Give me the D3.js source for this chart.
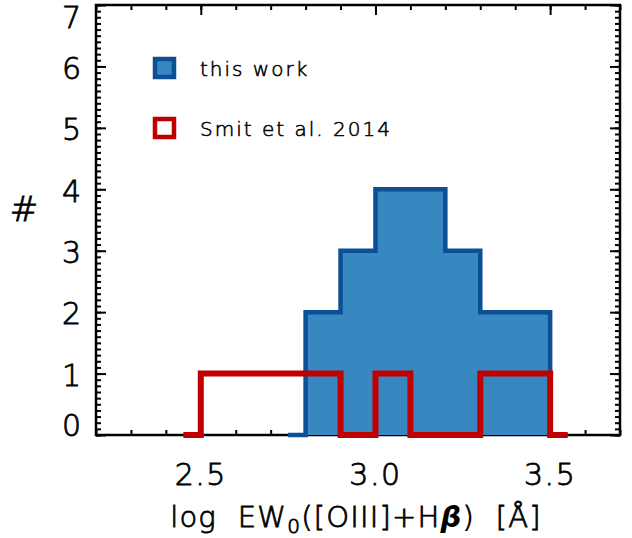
<!DOCTYPE html>
<html>
<head>
<meta charset="utf-8">
<script src="https://cdn.jsdelivr.net/npm/d3@7"></script>
<style>
  html, body { margin: 0; padding: 0; background: #fff; }
  svg { display: block; }
  text { font-family: "DejaVu Sans", sans-serif; fill: #000; font-weight: 300; stroke: #000; stroke-width: 0.8; }
  text.small { stroke-width: 0.55; }
</style>
</head>
<body>
<svg id="chart" width="632" height="538"></svg>
<script>
// ---- data ----
const binCenters = [2.45, 2.55, 2.65, 2.75, 2.85, 2.95, 3.05, 3.15, 3.25, 3.35, 3.45, 3.55];
const thisWork   = [0,    0,    0,    0,    2,    3,    4,    4,    3,    2,    2,    0];
const smit2014   = [0,    1,    1,    1,    1,    0,    1,    0,    0,    1,    1,    0];
const xTickLabels = ["2.5", "3.0", "3.5"];
const yTickLabels = ["0", "1", "2", "3", "4", "5", "6", "7"];
const legendLabels = ["this work", "Smit et al. 2014"];

const colors = { fill: "#3787c0", blueLine: "#0b4f97", red: "#c00000" };

// ---- layout ----
const svg = d3.select("#chart");
const L = 96, R = 620, T = 5, B = 435;
const x = d3.scaleLinear().domain([2.2, 3.7]).range([L, R]);
const y = d3.scaleLinear().domain([0, 7]).range([B, T]);

const majorX = xTickLabels.map(Number);
const minorX = x.ticks(15);
const majorY = yTickLabels.map(Number);
const minorY = y.ticks(70);

function axisGroup(axis, tx, ty) {
  const g = svg.append("g").attr("transform", `translate(${tx},${ty})`).call(axis);
  g.select(".domain").remove();
  g.selectAll("line").attr("stroke", "#000").attr("stroke-width", 2);
  g.selectAll("text").remove();
  return g;
}
// minor ticks (inward)
axisGroup(d3.axisBottom(x).tickValues(minorX).tickSize(-5), 0, B);
axisGroup(d3.axisTop(x).tickValues(minorX).tickSize(-5), 0, T);
axisGroup(d3.axisLeft(y).tickValues(minorY).tickSize(-5), L, 0);
axisGroup(d3.axisRight(y).tickValues(minorY).tickSize(-5), R, 0);
// major ticks (inward)
axisGroup(d3.axisBottom(x).tickValues(majorX).tickSize(-10), 0, B);
axisGroup(d3.axisTop(x).tickValues(majorX).tickSize(-10), 0, T);
axisGroup(d3.axisLeft(y).tickValues(majorY).tickSize(-10), L, 0);
axisGroup(d3.axisRight(y).tickValues(majorY).tickSize(-10), R, 0);

// frame
svg.append("rect").attr("x", L).attr("y", T).attr("width", R - L).attr("height", B - T)
  .attr("fill", "none").attr("stroke", "#000").attr("stroke-width", 2.5);

// ---- histograms ----
const blueStart = thisWork.findIndex(v => v > 0) - 1;
const blueData = binCenters.map((c, i) => ({ c, v: thisWork[i] })).slice(blueStart);
const redData = binCenters.map((c, i) => ({ c, v: smit2014[i] }));

svg.append("path").datum(blueData)
  .attr("d", d3.area().curve(d3.curveStep).x(d => x(d.c)).y0(y(0)).y1(d => y(d.v)))
  .attr("fill", colors.fill);
svg.append("path").datum(blueData)
  .attr("d", d3.line().curve(d3.curveStep).x(d => x(d.c)).y(d => y(d.v)))
  .attr("fill", "none").attr("stroke", colors.blueLine).attr("stroke-width", 4.5)
  .attr("stroke-linejoin", "miter").attr("stroke-linecap", "butt");
svg.append("path").datum(redData)
  .attr("d", d3.line().curve(d3.curveStep).x(d => x(d.c)).y(d => y(d.v)))
  .attr("fill", "none").attr("stroke", colors.red).attr("stroke-width", 6)
  .attr("stroke-linejoin", "miter").attr("stroke-linecap", "butt");

// ---- tick labels ----
svg.append("g").selectAll("text").data(xTickLabels).join("text")
  .attr("x", d => x(+d)).attr("y", 485)
  .attr("text-anchor", "middle").attr("font-size", 30).attr("letter-spacing", 1.5)
  .text(d => d);
svg.append("g").selectAll("text").data(yTickLabels).join("text")
  .attr("x", 81).attr("y", d => Math.min(Math.max(y(+d) + 1.5, 17), 425))
  .attr("dy", "0.36em")
  .attr("text-anchor", "end").attr("font-size", 30)
  .text(d => d);

// ---- axis titles ----
const xt = svg.append("text").attr("x", 356).attr("y", 527)
  .attr("text-anchor", "middle").attr("font-size", 29).attr("letter-spacing", 1.2)
  .style("white-space", "pre");
xt.append("tspan").text("log  EW");
xt.append("tspan").attr("font-size", 20).attr("dy", 6).text("0");
xt.append("tspan").attr("dy", -6).text("([OIII]+H");
xt.append("tspan").attr("font-weight", "bold").attr("font-style", "italic").attr("stroke-width", 0).text("β");
xt.append("tspan").text(")  [Å]");

svg.append("text").attr("x", 24).attr("y", 221).attr("text-anchor", "middle")
  .attr("font-size", 34).text("#");

// ---- legend ----
const legend = svg.append("g");
const items = [
  { label: legendLabels[0], fill: colors.fill, stroke: colors.blueLine, cy: 68 },
  { label: legendLabels[1], fill: "#fff", stroke: colors.red, cy: 128 }
];
items.forEach(it => {
  legend.append("rect").attr("x", 155).attr("y", it.cy - 9).attr("width", 19).attr("height", 18)
    .attr("fill", it.fill).attr("stroke", it.stroke).attr("stroke-width", 4.5);
  legend.append("text").attr("class", "small").attr("x", 200).attr("y", it.cy + 8)
    .attr("font-size", 20).attr("letter-spacing", 2).text(it.label);
});
</script>
</body>
</html>
